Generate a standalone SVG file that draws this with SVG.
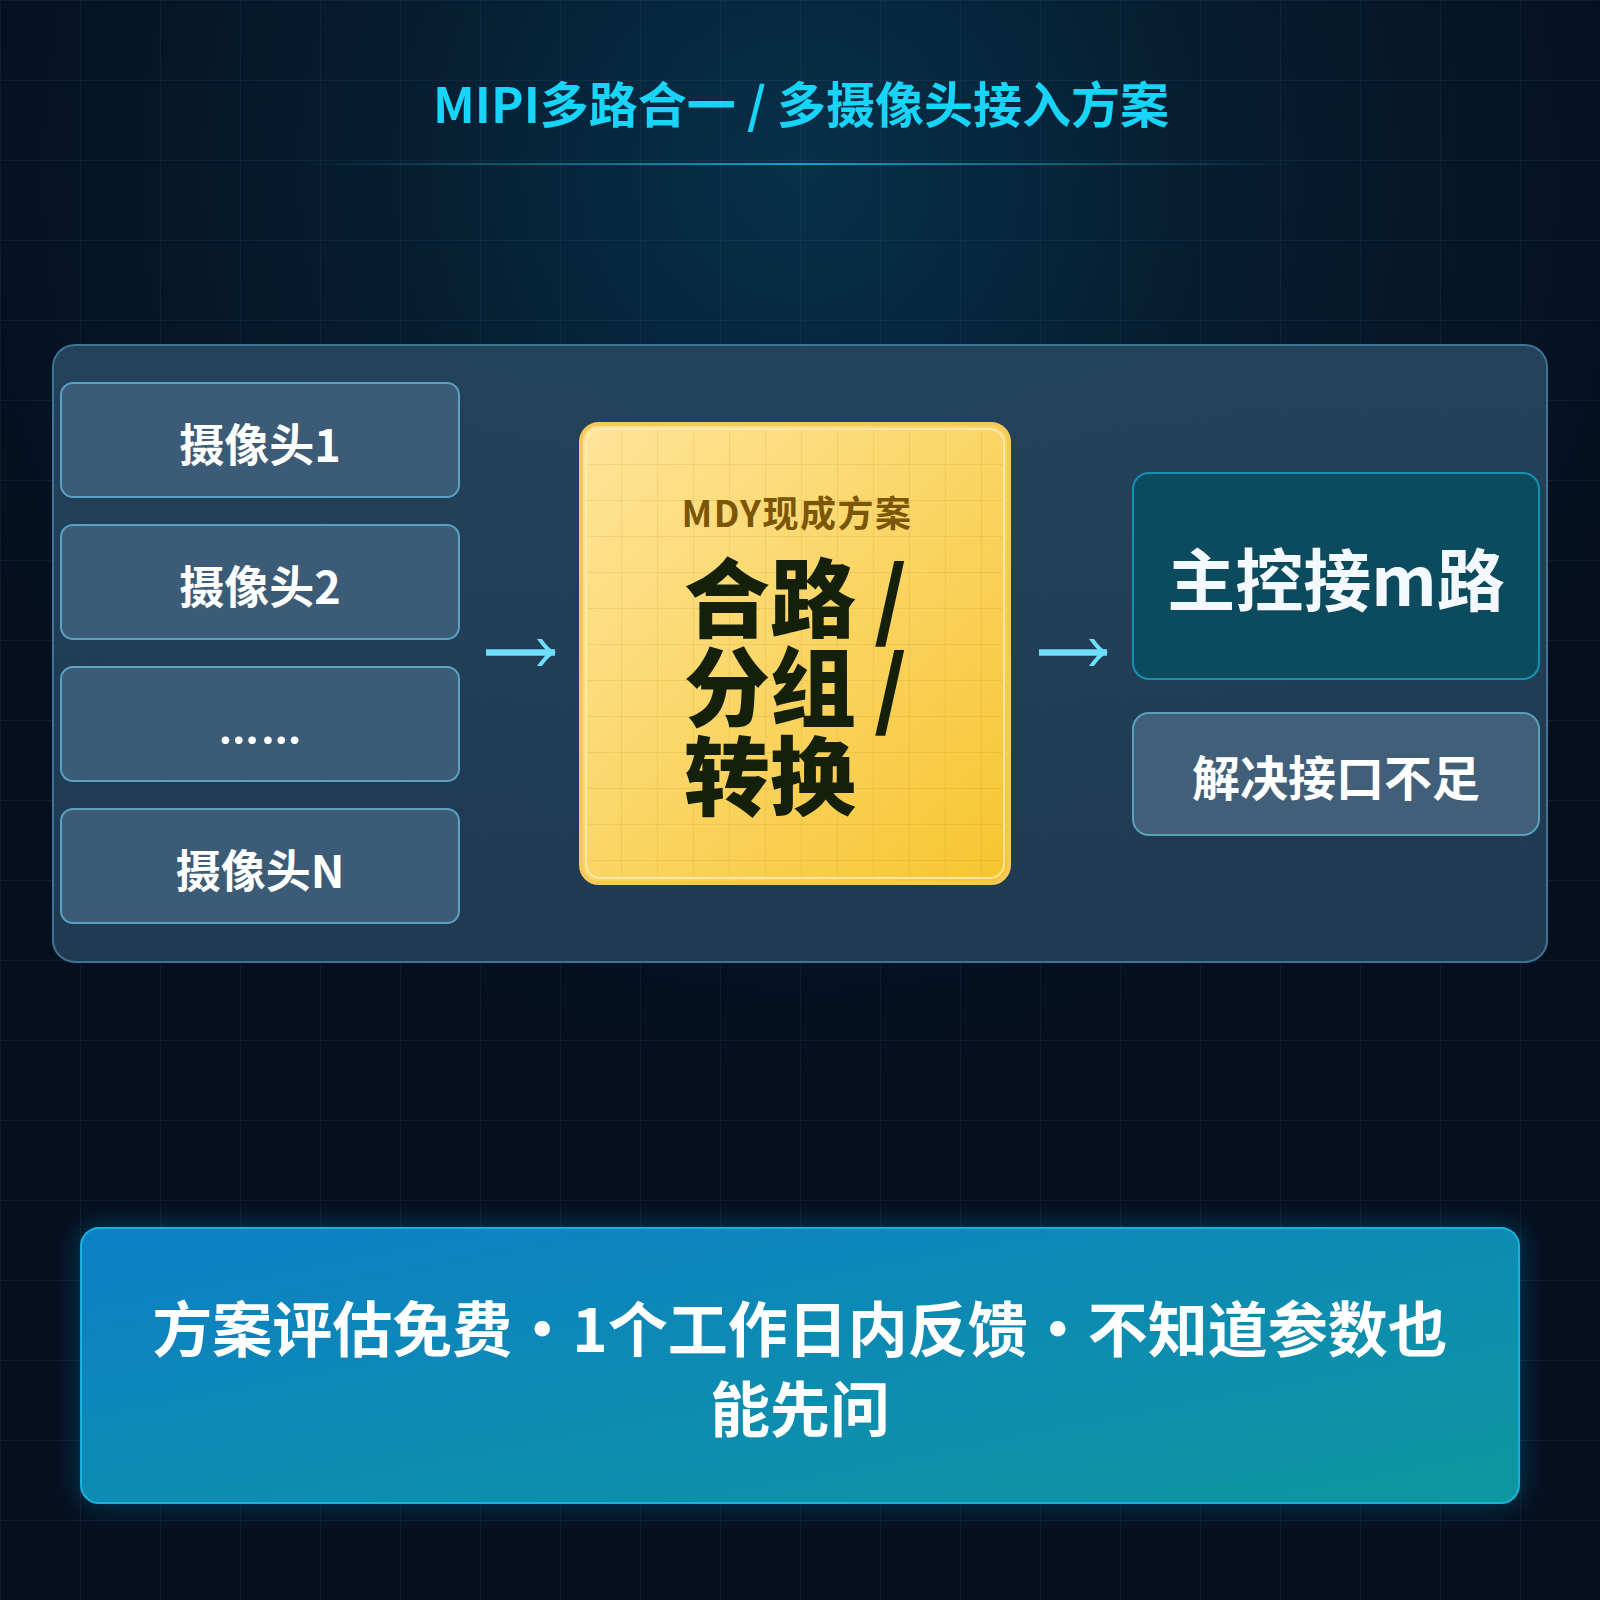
<svg xmlns="http://www.w3.org/2000/svg" width="1600" height="1600" viewBox="0 0 1600 1600">
  <defs>
    <radialGradient id="bgGlow" cx="800" cy="170" r="900" gradientUnits="userSpaceOnUse">
      <stop offset="0" stop-color="#073149"/>
      <stop offset="0.45" stop-color="#061d30"/>
      <stop offset="1" stop-color="#050f1f"/>
    </radialGradient>
    <pattern id="grid" x="0" y="0" width="80" height="80" patternUnits="userSpaceOnUse">
      <path d="M0 0 H80 M0 0 V80" fill="none" stroke="#5a8cb4" stroke-opacity="0.12" stroke-width="1.5"/>
    </pattern>
    <pattern id="ygrid" x="585" y="428" width="36" height="36" patternUnits="userSpaceOnUse">
      <path d="M0 0 H36 M0 0 V36" fill="none" stroke="#b98a18" stroke-opacity="0.22" stroke-width="1.5"/>
    </pattern>
    <linearGradient id="titleLine" x1="300" y1="0" x2="1300" y2="0" gradientUnits="userSpaceOnUse">
      <stop offset="0" stop-color="#18c8f0" stop-opacity="0"/>
      <stop offset="0.5" stop-color="#18c8f0" stop-opacity="0.75"/>
      <stop offset="1" stop-color="#18c8f0" stop-opacity="0"/>
    </linearGradient>
    <linearGradient id="panelFill" x1="0" y1="0" x2="0" y2="1">
      <stop offset="0" stop-color="#26465f" stop-opacity="0.92"/>
      <stop offset="1" stop-color="#213d55" stop-opacity="0.92"/>
    </linearGradient>
    <linearGradient id="yellowFill" x1="0" y1="0" x2="1" y2="1">
      <stop offset="0" stop-color="#ffe59b"/>
      <stop offset="1" stop-color="#f6c52f"/>
    </linearGradient>
    <linearGradient id="ctaFill" x1="0" y1="0" x2="1" y2="1">
      <stop offset="0" stop-color="#0f7fc6"/>
      <stop offset="1" stop-color="#0c979e"/>
    </linearGradient>
    <filter id="ctaGlow" x="-10%" y="-30%" width="120%" height="160%">
      <feDropShadow dx="0" dy="0" stdDeviation="14" flood-color="#0a9ad6" flood-opacity="0.35"/>
    </filter>
    <marker id="arrowHead" viewBox="0 0 20 28" markerWidth="20" markerHeight="28" refX="19" refY="14" orient="auto" markerUnits="userSpaceOnUse">
      <path d="M1,0.5 L6,0.5 Q12,9.5 20,14 Q12,18.5 6,27.5 L1,27.5 Q7,19 12.5,14 Q7,9 1,0.5 Z" fill="#6ee0fb"/>
    </marker>
    <style>
      .t { font-family: "Noto Sans CJK SC", "Noto Sans", sans-serif; font-weight: 700; }
      .cam { fill: #3c5b76; stroke: #5aa2c1; stroke-width: 2; }
      .camText { fill: #ffffff; font-size: 45px; text-anchor: middle; }
      .conn { stroke: #6ee0fb; stroke-width: 6.5; fill: none; marker-end: url(#arrowHead); }
    </style>
  </defs>

  <!-- background -->
  <rect x="0" y="0" width="1600" height="1600" fill="url(#bgGlow)"/>
  <rect x="0" y="0" width="1600" height="1600" fill="url(#grid)"/>

  <!-- title -->
  <g id="title">
    <text class="t" x="801" y="123" font-size="49" fill="#18d4f8" text-anchor="middle">MIPI多路合一 / 多摄像头接入方案</text>
    <rect x="300" y="163" width="1000" height="2" fill="url(#titleLine)"/>
  </g>

  <!-- outer panel -->
  <g id="panel">
    <rect x="53" y="345" width="1494" height="617" rx="22" fill="url(#panelFill)" stroke="#3b7593" stroke-width="2"/>
  </g>

  <!-- camera nodes -->
  <g id="cam1">
    <rect class="cam" x="61" y="383" width="398" height="114" rx="12"/>
    <text class="t camText" x="260" y="462">摄像头1</text>
  </g>
  <g id="cam2">
    <rect class="cam" x="61" y="525" width="398" height="114" rx="12"/>
    <text class="t camText" x="260" y="604">摄像头2</text>
  </g>
  <g id="camDots">
    <rect class="cam" x="61" y="667" width="398" height="114" rx="12"/>
    <text x="262" y="744" font-family="Lato, 'Liberation Sans', sans-serif" font-weight="700" font-size="50" letter-spacing="4" fill="#ffffff" text-anchor="middle">……</text>
  </g>
  <g id="camN">
    <rect class="cam" x="61" y="809" width="398" height="114" rx="12"/>
    <text class="t camText" x="260" y="888">摄像头N</text>
  </g>

  <!-- center node -->
  <g id="mdy">
    <rect x="581" y="424" width="428" height="459" rx="18" fill="url(#yellowFill)" stroke="#f6c85a" stroke-width="4"/>
    <rect x="585" y="428" width="420" height="451" rx="14" fill="url(#ygrid)"/>
    <rect x="586" y="429" width="418" height="449" rx="14" fill="none" stroke="#fff0bf" stroke-opacity="0.75" stroke-width="2"/>
    <text class="t" fill="#14200a"><tspan x="797" y="527" font-size="36" fill="#7b5608" letter-spacing="1.5" text-anchor="middle">MDY现成方案</tspan><tspan x="684" y="631" font-size="86" font-weight="900">合路</tspan><tspan x="874" y="631" font-size="86" font-weight="900">/</tspan><tspan x="684" y="720" font-size="86" font-weight="900">分组</tspan><tspan x="874" y="720" font-size="86" font-weight="900">/</tspan><tspan x="684" y="809" font-size="86" font-weight="900">转换</tspan></text>
  </g>

  <!-- output nodes -->
  <g id="host">
    <rect x="1133" y="473" width="406" height="206" rx="16" fill="#0c4a5e" stroke="#1390b2" stroke-width="2"/>
    <text class="t" x="1336" y="606" font-size="68" fill="#f4f8ff" text-anchor="middle">主控接m路</text>
  </g>
  <g id="solve">
    <rect x="1133" y="713" width="406" height="122" rx="16" fill="#415f78" stroke="#5a9fbd" stroke-width="2"/>
    <text class="t" x="1336" y="796" font-size="48" fill="#ffffff" text-anchor="middle">解决接口不足</text>
  </g>

  <!-- connectors -->
  <g id="connectors">
    <path class="conn" d="M486 652.5 H555"/>
    <path class="conn" d="M1039 652.5 H1107"/>
  </g>

  <!-- call to action -->
  <g id="cta">
    <rect x="81" y="1228" width="1438" height="275" rx="18" fill="url(#ctaFill)" stroke="#17b2dc" stroke-width="2" filter="url(#ctaGlow)"/>
    <text class="t" fill="#ffffff" font-size="60" text-anchor="middle"><tspan x="800" y="1352">方案评估免费・1个工作日内反馈・不知道参数也</tspan><tspan x="800" y="1432">能先问</tspan></text>
  </g>
</svg>
